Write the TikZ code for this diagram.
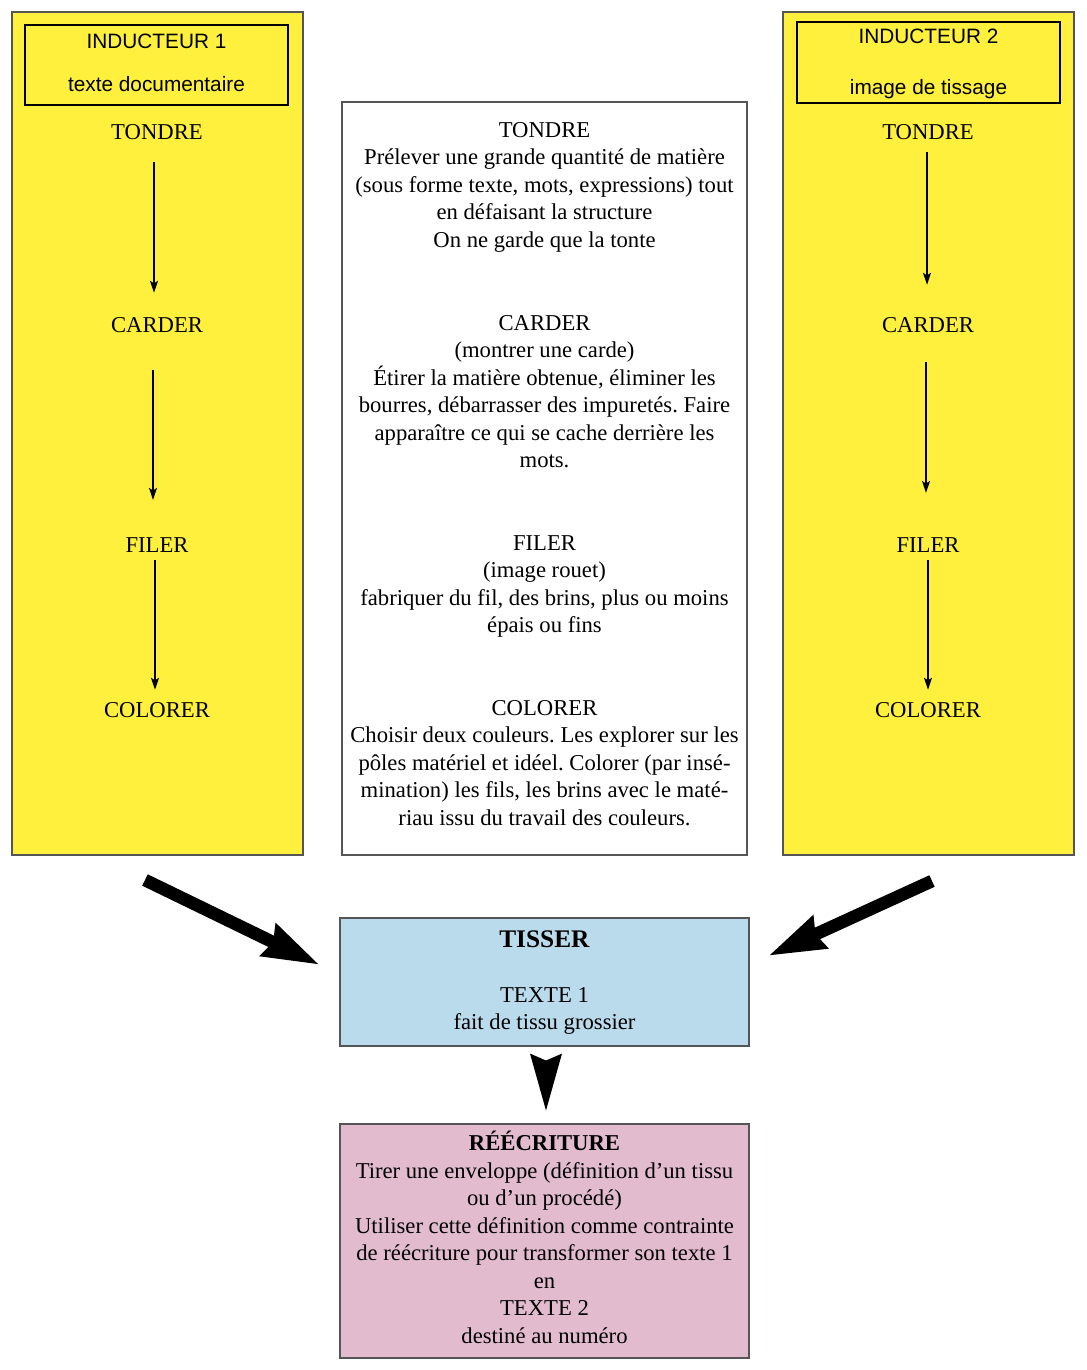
\documentclass[tikz,border=0pt]{standalone}
\usepackage{fontspec}
\setmainfont{Liberation Serif}
\setsansfont{Liberation Sans}
\usetikzlibrary{arrows.meta,calc}
\frenchspacing
\definecolor{ylw}{RGB}{254,240,60}
\definecolor{lblue}{RGB}{185,219,235}
\definecolor{lpink}{RGB}{226,187,206}
\definecolor{bord}{RGB}{85,85,85}
\tikzset{
  x=0.75pt,y=-0.75pt,
  ybox/.style={draw=bord,line width=0.8pt,fill=ylw,rectangle,inner sep=0pt},
  ibox/.style={draw=black,line width=1.5pt,rectangle,inner sep=0pt},
  wbox/.style={draw=bord,line width=0.8pt,fill=white,rectangle,inner sep=0pt},
  bbox/.style={draw=bord,line width=0.8pt,fill=lblue,rectangle,inner sep=0pt},
  pbox/.style={draw=bord,line width=0.8pt,fill=lpink,rectangle,inner sep=0pt},
  txt/.style={font=\fontsize{17pt}{20.6pt}\selectfont,align=center,inner sep=0pt,anchor=base},
  stxt/.style={font=\sffamily\fontsize{15.6pt}{18pt}\selectfont,inner sep=0pt,anchor=base},
  thinarrow/.style={draw=black,line width=0.9pt,-{Stealth[length=9pt,width=6pt,inset=2pt]}},
  bigarrow/.style={draw=black,line width=9.5pt,-{Stealth[length=42pt,width=25pt,inset=3pt]}}
}
\begin{document}
\begin{tikzpicture}
\useasboundingbox (0,0) rectangle (1086,1370);
% boxes
\node[ybox,minimum width=218.25pt,minimum height=632.25pt] (L) at (157.5,433.5) {};
\node[ybox,minimum width=218.25pt,minimum height=632.25pt] (R) at (928.5,433.5) {};
\node[ibox,minimum width=197.25pt,minimum height=60pt] (Li) at (156.5,65) {};
\node[ibox,minimum width=197.25pt,minimum height=60.75pt] (Ri) at (928.5,62.5) {};
\node[wbox,minimum width=303.75pt,minimum height=564.75pt] (M) at (544.5,478.5) {};
\node[bbox,minimum width=306.75pt,minimum height=96pt] (T) at (544.5,982) {};
\node[pbox,minimum width=306.75pt,minimum height=175.5pt] (W) at (544.5,1241) {};
% left column
\node[stxt] (li1) at (156.5,49) {INDUCTEUR 1};
\node[stxt] (li2) at (156.5,91) {texte documentaire};
\node[txt] (tL) at (157,139) {TONDRE};
\node[txt] (cL) at (157,332) {CARDER};
\node[txt] (fL) at (157,552) {FILER};
\node[txt] (oL) at (157,717) {COLORER};
% right column
\node[stxt] (ri1) at (928.5,44) {INDUCTEUR 2};
\node[stxt] (ri2) at (928.5,94) {image de tissage};
\node[txt] (tR) at (928,139) {TONDRE};
\node[txt] (cR) at (928,332) {CARDER};
\node[txt] (fR) at (928,552) {FILER};
\node[txt] (oR) at (928,717) {COLORER};
% thin arrows
\draw[thinarrow,shorten <=17pt,shorten >=18pt] ([xshift=-2.25pt]tL.south) -- ([xshift=-2.25pt]cL.north);
\draw[thinarrow,shorten <=28.5pt,shorten >=27.75pt] ([xshift=-3pt]cL.south) -- ([xshift=-3pt]fL.north);
\draw[thinarrow,shorten <=6pt,shorten >=9pt] ([xshift=-1.5pt]fL.south) -- ([xshift=-1.5pt]oL.north);
\draw[thinarrow,shorten <=9.75pt,shorten >=24pt] ([xshift=-0.75pt]tR.south) -- ([xshift=-0.75pt]cR.north);
\draw[thinarrow,shorten <=22.5pt,shorten >=33pt] ([xshift=-1.5pt]cR.south) -- ([xshift=-1.5pt]fR.north);
\draw[thinarrow,shorten <=6pt,shorten >=9pt] (fR.south) -- (oR.north);
% middle texts (anchored at the baseline of their last line)
\node[txt] (m1) at (544.5,247) {TONDRE\\Prélever une grande quantité de matière\\(sous forme texte, mots, expressions) tout\\en défaisant la structure\\On ne garde que la tonte};
\node[txt] (m2) at (544.5,467.5) {CARDER\\(montrer une carde)\\Étirer la matière obtenue, éliminer les\\bourres, débarrasser des impuretés. Faire\\apparaître ce qui se cache derrière les\\mots.};
\node[txt] (m3) at (544.5,632.5) {FILER\\(image rouet)\\fabriquer du fil, des brins, plus ou moins\\épais ou fins};
\node[txt] (m4) at (544.5,825) {COLORER\\Choisir deux couleurs. Les explorer sur les\\pôles matériel et idéel. Colorer (par insé-\\mination) les fils, les brins avec le maté-\\riau issu du travail des couleurs.};
% tisser
\node[txt] (t1) at (544.5,1029.5) {{\fontsize{19pt}{20.6pt}\selectfont\textbf{TISSER}}\\[20.6pt]TEXTE 1\\fait de tissu grossier};
% reecriture
\node[txt] (w1) at (544.5,1343) {\textbf{RÉÉCRITURE}\\Tirer une enveloppe (définition d’un tissu\\ou d’un procédé)\\Utiliser cette définition comme contrainte\\de réécriture pour transformer son texte 1\\en\\TEXTE 2\\destiné au numéro};
% big arrows
\coordinate (a1s) at (145,880);
\coordinate (a1e) at (320,965);
\coordinate (a2s) at (932,881);
\coordinate (a2e) at (768,956);
\draw[bigarrow] (a1s) -- (a1e);
\draw[bigarrow] (a2s) -- (a2e);
% down dart
\fill[black] ($(T.south)+(-14.5,7)$) -- ($(T.south)+(1.5,14)$) -- ($(T.south)+(17.5,7)$) -- ($(T.south)+(1.5,64)$) -- cycle;
\end{tikzpicture}
\end{document}
